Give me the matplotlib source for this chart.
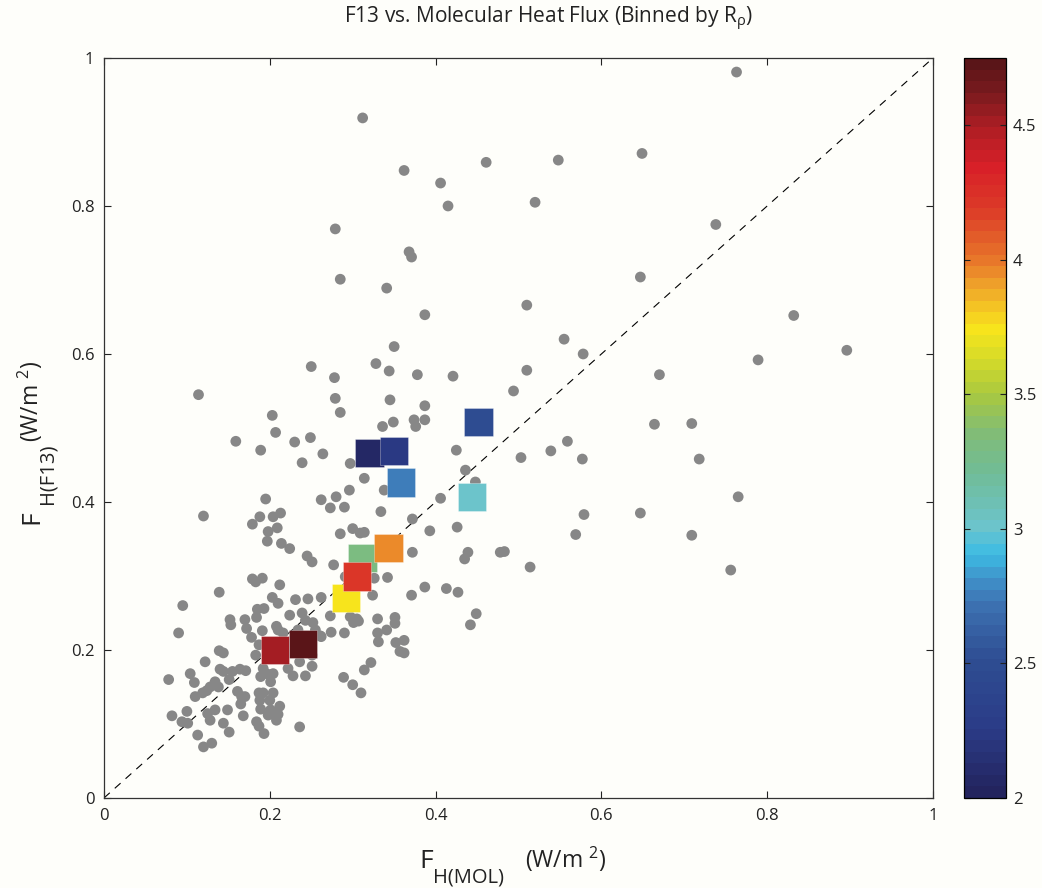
import numpy as np
import matplotlib
matplotlib.use('Agg')
import matplotlib.pyplot as plt
from matplotlib.colors import LinearSegmentedColormap

plt.rcParams['font.family'] = ['Open Sans', 'DejaVu Sans']
plt.rcParams['mathtext.fontset'] = 'custom'
plt.rcParams['mathtext.rm'] = 'Open Sans'
plt.rcParams['mathtext.it'] = 'Open Sans'
plt.rcParams['mathtext.bf'] = 'Open Sans'

# individual profiles: molecular heat flux vs F13 heat flux (W/m^2)
f_mol = [
    0.312, 0.279, 0.285, 0.362, 0.406, 0.415, 0.461, 0.548, 0.649, 0.520,
    0.368, 0.371, 0.341, 0.387, 0.510, 0.647, 0.763, 0.738, 0.832,
    0.555, 0.578, 0.510, 0.494, 0.670, 0.789, 0.896, 0.664, 0.709, 0.559,
    0.539, 0.503, 0.577, 0.718, 0.765, 0.579, 0.647, 0.569, 0.709, 0.478,
    0.483, 0.514, 0.756,
    0.114, 0.159, 0.189, 0.195, 0.120, 0.188, 0.179, 0.203,
    0.350, 0.250, 0.328, 0.344, 0.378, 0.421, 0.278, 0.279, 0.345, 0.285,
    0.387, 0.207, 0.374, 0.387, 0.376, 0.336, 0.349, 0.230, 0.249, 0.264,
    0.239, 0.297, 0.314, 0.425, 0.436, 0.448, 0.406, 0.296, 0.280, 0.262,
    0.273, 0.290, 0.338, 0.334, 0.372, 0.204, 0.213, 0.209, 0.198, 0.197,
    0.214, 0.224, 0.285, 0.300, 0.309, 0.314, 0.393, 0.426, 0.372, 0.439,
    0.435, 0.245, 0.251, 0.277, 0.291, 0.326, 0.342, 0.324, 0.371, 0.387,
    0.413, 0.427, 0.449, 0.442, 0.212, 0.191, 0.203, 0.210, 0.193, 0.231,
    0.246, 0.262, 0.224, 0.239, 0.243, 0.262, 0.273, 0.290, 0.297, 0.305,
    0.330, 0.351, 0.351, 0.341, 0.330, 0.331, 0.352, 0.362, 0.357, 0.362,
    0.208, 0.210, 0.234, 0.252, 0.191, 0.301, 0.307, 0.289, 0.300, 0.310,
    0.314, 0.322,
    0.179, 0.183, 0.139, 0.095, 0.185, 0.152, 0.153, 0.170, 0.184, 0.090,
    0.172, 0.178, 0.216, 0.255, 0.261, 0.274, 0.187, 0.183, 0.139, 0.144,
    0.122, 0.251, 0.251, 0.236, 0.222, 0.228, 0.243, 0.192, 0.196, 0.204,
    0.189, 0.201, 0.140, 0.144, 0.155, 0.164, 0.171, 0.151, 0.104, 0.109,
    0.078, 0.134, 0.138, 0.128, 0.124, 0.119, 0.110, 0.161, 0.166, 0.170,
    0.165, 0.187, 0.192, 0.204, 0.188, 0.200, 0.212, 0.189, 0.198, 0.201,
    0.210, 0.208, 0.236, 0.149, 0.134, 0.125, 0.100, 0.082, 0.094, 0.101,
    0.128, 0.144, 0.168, 0.184, 0.187, 0.193, 0.151, 0.113, 0.120, 0.130,
]
f_f13 = [
    0.919, 0.769, 0.701, 0.848, 0.831, 0.800, 0.859, 0.862, 0.871, 0.805,
    0.738, 0.731, 0.689, 0.653, 0.666, 0.704, 0.981, 0.775, 0.652,
    0.620, 0.600, 0.578, 0.550, 0.572, 0.592, 0.605, 0.505, 0.506, 0.482,
    0.469, 0.460, 0.458, 0.458, 0.407, 0.383, 0.385, 0.356, 0.355, 0.332,
    0.333, 0.312, 0.308,
    0.545, 0.482, 0.470, 0.404, 0.381, 0.380, 0.370, 0.517,
    0.610, 0.583, 0.587, 0.577, 0.572, 0.570, 0.568, 0.540, 0.538, 0.521,
    0.530, 0.494, 0.511, 0.511, 0.502, 0.502, 0.508, 0.481, 0.487, 0.465,
    0.453, 0.452, 0.432, 0.470, 0.443, 0.427, 0.405, 0.416, 0.407, 0.403,
    0.392, 0.393, 0.416, 0.387, 0.377, 0.380, 0.385, 0.365, 0.360, 0.347,
    0.344, 0.337, 0.357, 0.364, 0.358, 0.359, 0.361, 0.366, 0.332, 0.332,
    0.323, 0.327, 0.319, 0.315, 0.299, 0.297, 0.298, 0.274, 0.274, 0.285,
    0.283, 0.278, 0.249, 0.234, 0.288, 0.297, 0.271, 0.263, 0.256, 0.268,
    0.269, 0.271, 0.247, 0.250, 0.240, 0.218, 0.246, 0.223, 0.245, 0.242,
    0.242, 0.244, 0.236, 0.227, 0.223, 0.211, 0.210, 0.213, 0.198, 0.196,
    0.232, 0.227, 0.227, 0.237, 0.226, 0.237, 0.239, 0.163, 0.153, 0.142,
    0.173, 0.183,
    0.296, 0.292, 0.278, 0.260, 0.255, 0.241, 0.234, 0.241, 0.244, 0.223,
    0.229, 0.217, 0.223, 0.227, 0.219, 0.224, 0.207, 0.193, 0.199, 0.196,
    0.184, 0.193, 0.178, 0.184, 0.175, 0.165, 0.165, 0.175, 0.168, 0.168,
    0.164, 0.157, 0.174, 0.171, 0.171, 0.174, 0.172, 0.160, 0.168, 0.156,
    0.160, 0.157, 0.150, 0.150, 0.145, 0.142, 0.137, 0.144, 0.137, 0.137,
    0.127, 0.142, 0.142, 0.142, 0.132, 0.132, 0.124, 0.120, 0.112, 0.119,
    0.113, 0.105, 0.096, 0.119, 0.119, 0.114, 0.117, 0.111, 0.103, 0.101,
    0.105, 0.101, 0.111, 0.103, 0.097, 0.087, 0.089, 0.085, 0.069, 0.074,
]

# bin averages, coloured by density ratio R_rho
bin_mol = [0.320, 0.350, 0.452, 0.358, 0.444, 0.312, 0.292, 0.343, 0.305, 0.206, 0.240]
bin_f13 = [0.466, 0.469, 0.508, 0.426, 0.407, 0.324, 0.270, 0.338, 0.299, 0.200, 0.208]
bin_rrho = [2.05, 2.25, 2.48, 2.75, 3.0, 3.33, 3.75, 3.97, 4.22, 4.5, 4.72]

# colormap sampled from the colorbar
cmap_pts = [(2.00, '#23245e'), (2.25, '#2b3c88'), (2.50, '#2e4d92'), (2.70, '#3c70b0'),
            (2.80, '#4090c8'), (2.90, '#3cbce4'), (3.00, '#6cc4cc'), (3.20, '#70bc98'),
            (3.35, '#80bc78'), (3.50, '#a8c840'), (3.64, '#d8dc28'), (3.75, '#f8e41c'),
            (3.90, '#f0a82a'), (4.00, '#e87a2a'), (4.20, '#dc3a28'), (4.36, '#d82028'),
            (4.50, '#b01e24'), (4.64, '#7a1a1e'), (4.75, '#5a1518')]
vmin, vmax = 2.0, 4.75
cmap = LinearSegmentedColormap.from_list(
    'rrho', [((v - vmin) / (vmax - vmin), c) for v, c in cmap_pts], N=64)

bg = '#fefefa'
txt = '#222222'
fig = plt.figure(figsize=(10.42, 8.88), dpi=100, facecolor=bg)
ax = fig.add_axes([0.0998, 0.1014, 0.7956, 0.8333], facecolor=bg)
cax = fig.add_axes([0.9251, 0.1014, 0.0403, 0.8333])

ax.plot([0, 1], [0, 1], color='k', lw=0.8, ls=(0, (7, 6)), zorder=1)
ax.scatter(f_mol, f_f13, s=60, color='#878787', edgecolors='none', zorder=2)

order = np.argsort(bin_rrho)
sc = ax.scatter(np.array(bin_mol)[order], np.array(bin_f13)[order],
                c=np.array(bin_rrho)[order], cmap=cmap, vmin=vmin, vmax=vmax,
                marker='s', s=420, edgecolors=(1, 1, 1, 0.35), linewidths=0.6, zorder=3)

ax.set_xlim(0, 1)
ax.set_ylim(0, 1)
ticks = [0, 0.2, 0.4, 0.6, 0.8, 1]
ax.set_xticks(ticks)
ax.set_yticks(ticks)
ax.set_xticklabels(['0', '0.2', '0.4', '0.6', '0.8', '1'])
ax.set_yticklabels(['0', '0.2', '0.4', '0.6', '0.8', '1'])
ax.tick_params(direction='in', length=5, width=0.8, top=True, right=True,
               labelsize=12, pad=7, colors=txt)
for sp in ax.spines.values():
    sp.set_linewidth(0.9)
    sp.set_color('#333333')

cb = fig.colorbar(sc, cax=cax)
cb.set_ticks([2, 2.5, 3, 3.5, 4, 4.5])
cb.set_ticklabels(['2', '2.5', '3', '3.5', '4', '4.5'])
cax.tick_params(direction='in', length=4, width=0.8, left=True, right=True,
                labelsize=12, pad=5, colors=txt)
cb.outline.set_linewidth(0.9)

fig.text(0.526, 0.979, r'F13 vs. Molecular Heat Flux (Binned by R$_{\rho}$)',
         ha='center', va='center', fontsize=15, color=txt)

# x label: big F, subscript, units
fig.text(419 / 1042, 1 - 868 / 888, 'F', fontsize=19,
         ha='left', va='baseline', color=txt)
fig.text(433 / 1042, 1 - 882 / 888, 'H(MOL)', fontsize=14.5,
         ha='left', va='baseline', color=txt)
fig.text(525 / 1042, 1 - 868 / 888, r'(W/m $^{2}$)', fontsize=16.5,
         ha='left', va='baseline', color=txt)
# y label, rotated
fig.text(38 / 1042, 1 - 524 / 888, 'F', fontsize=19, rotation=90,
         rotation_mode='anchor', ha='left', va='baseline', color=txt)
fig.text(53 / 1042, 1 - 504 / 888, 'H(F13)', fontsize=14.5, rotation=90,
         rotation_mode='anchor', ha='left', va='baseline', color=txt)
fig.text(39 / 1042, 1 - 442 / 888, r'(W/m $^{2}$)', fontsize=16.5, rotation=90,
         rotation_mode='anchor', ha='left', va='baseline', color=txt)

fig.savefig('out.png', dpi=100, facecolor=bg)
